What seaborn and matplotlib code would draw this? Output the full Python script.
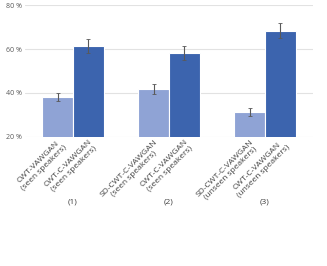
import numpy as np
import pandas as pd
import matplotlib
matplotlib.use("Agg")
import matplotlib.pyplot as plt
import matplotlib.transforms as mtransforms
import seaborn as sns

# values
groups = ["(1)", "(2)", "(3)"]
series = ["baseline", "proposed"]
baseline_vals = [38.2, 42.0, 31.2]
proposed_vals = [61.6, 58.2, 68.5]
baseline_err = [1.9, 2.3, 1.8]
proposed_err = [3.2, 3.1, 3.6]
bar_labels = [
    "CWT-VAWGAN\n(seen speakers)", "CWT-C-VAWGAN\n(seen speakers)",
    "SD-CWT-C-VAWGAN\n(seen speakers)", "CWT-C-VAWGAN\n(seen speakers)",
    "SD-CWT-C-VAWGAN\n(unseen speakers)", "CWT-C-VAWGAN\n(unseen speakers)",
]
y_ticks = [20, 40, 60, 80]

df = pd.DataFrame({
    "group": groups * 2,
    "series": [series[0]] * 3 + [series[1]] * 3,
    "value": baseline_vals + proposed_vals,
    "err": baseline_err + proposed_err,
})

sns.set_theme(style="white")
plt.rcParams["font.family"] = ["Open Sans", "DejaVu Sans"]

fig = plt.figure(figsize=(3.27, 2.66), dpi=100)
ax = fig.add_axes([0.076, 0.486, 0.881, 0.494])

palette = {"baseline": "#8FA3D5", "proposed": "#3C64AE"}
sns.barplot(data=df, x="group", y="value", hue="series", palette=palette,
            width=0.64, edgecolor="white", linewidth=0.8, saturation=1,
            legend=False, ax=ax, zorder=2)

# error bars placed on the seaborn bar centres
centres, tops = [], []
for p in ax.patches:
    if p.get_height() > 0:
        centres.append(p.get_x() + p.get_width() / 2)
        tops.append(p.get_height())
order = np.argsort(centres)
centres = np.array(centres)[order]
tops = np.array(tops)[order]
errs_by_pos = []
for i in range(3):
    errs_by_pos += [baseline_err[i], proposed_err[i]]
ax.errorbar(centres, tops, yerr=errs_by_pos, fmt="none", ecolor="#595959",
            elinewidth=0.8, capsize=1.2, capthick=0.6, zorder=3)

ax.set_ylim(20, 80)
ax.set_yticks(y_ticks)
ax.set_yticklabels([f"{t} %" for t in y_ticks], fontsize=5, color="#595959")
ax.yaxis.grid(True, color="#E2E2E2", linewidth=0.8, zorder=0)
ax.set_axisbelow(True)
for s in ax.spines.values():
    s.set_visible(False)
ax.tick_params(axis="y", length=0, pad=2)
ax.tick_params(axis="x", length=0, pad=1)

ax.set_xticks(centres)
ax.set_xticklabels(bar_labels, rotation=45, ha="right", va="top",
                   rotation_mode="anchor", fontsize=6, color="#404040",
                   multialignment="center")
ax.set_xlabel("")
ax.set_ylabel("")
ax.set_xlim(-0.5, 2.5)

trans = mtransforms.blended_transform_factory(ax.transData, ax.transAxes)
for i, g in enumerate(groups):
    ax.text(i, -0.5, g, transform=trans, ha="center", va="center",
            fontsize=6, color="#404040")

fig.savefig("out.png", dpi=100)
